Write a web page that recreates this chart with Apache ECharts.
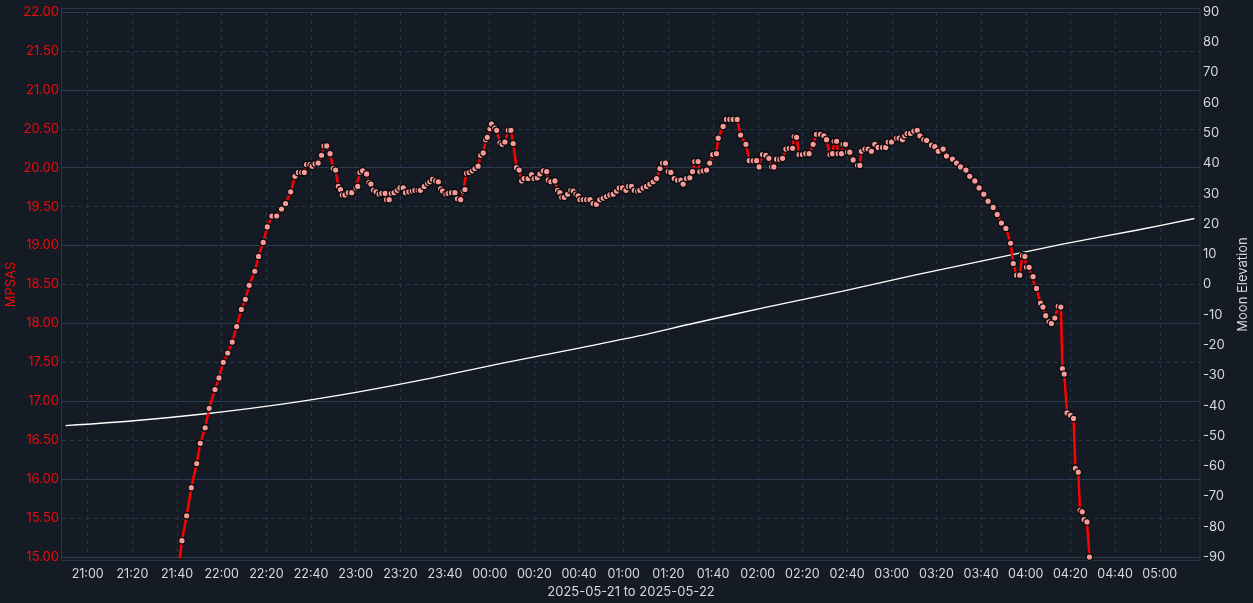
<!DOCTYPE html>
<html>
<head>
<meta charset="utf-8">
<script src="https://cdn.jsdelivr.net/npm/echarts@6/dist/echarts.min.js"></script>
<style>
html,body{margin:0;padding:0;background:#151b24;}
#c{width:1253px;height:603px;}
</style>
</head>
<body>
<div id="c"></div>
<script>
// minutes are counted from 2025-05-21 21:00
const xTickMinutes = [0,20,40,60,80,100,120,140,160,180,200,220,240,260,280,300,320,340,360,380,400,420,440,460,480];
const xTickLabels = ["21:00","21:20","21:40","22:00","22:20","22:40","23:00","23:20","23:40","00:00","00:20","00:40","01:00","01:20","01:40","02:00","02:20","02:40","03:00","03:20","03:40","04:00","04:20","04:40","05:00"];

const mpsasMinutes = [
40,42.2,44.3,46.4,48.8,50.4,52.6,54.4,57.0,58.8,60.7,62.7,64.7,66.7,68.8,70.6,72.3,74.8,76.5,78.6,
80.4,82.5,84.6,86.8,88.6,90.9,92.8,94.3,95.8,97.0,98.0,99.5,100.5,101.8,103.2,104.7,105.8,107.0,108.5,109.9,
111.0,112.2,113.2,114.0,115.2,116.7,118.2,120.1,120.9,121.9,123.1,124.9,125.9,126.8,127.9,129.1,130.5,131.7,133.2,133.8,
135.0,135.9,137.2,138.6,139.8,141.3,142.3,143.8,145.3,146.5,148.0,149.0,150.7,152.2,153.2,154.4,155.8,157.0,158.0,158.9,
160.4,161.4,162.9,164.4,165.5,167.0,168.1,168.9,169.6,170.8,172.2,173.4,174.8,175.9,177.1,178.2,178.9,180.1,180.8,182.3,
183.1,184.6,185.6,186.8,188.3,189.5,190.5,192.0,193.2,194.3,195.4,197.2,198.7,199.9,201.3,202.5,204.0,205.5,206.2,207.4,
209.2,210.4,211.4,212.2,213.4,214.9,216.3,217.4,218.6,219.6,220.4,221.9,223.4,224.9,226.3,227.8,229.3,230.8,232.3,233.8,
235.3,236.8,238.0,239.5,241.0,242.2,243.5,244.7,246.2,247.2,248.7,250.2,251.7,253.2,254.7,256.2,257.4,258.7,259.9,261.1,
262.6,264.1,265.6,266.6,268.1,269.6,270.8,271.8,273.3,274.1,275.6,277.1,278.5,279.8,281.5,282.3,284.5,286.0,287.5,289.0,
290.8,292.3,294.7,296.2,298.0,299.5,300.6,302.1,303.6,305.0,306.2,307.2,308.4,309.9,311.1,312.6,314.1,315.6,316.3,317.4,
318.5,320.0,321.5,323.0,324.8,326.3,328.1,329.6,330.8,332.3,333.5,334.2,335.3,336.0,337.5,338.2,339.3,340.2,341.2,342.7,
344.7,345.7,346.4,348.0,349.4,350.9,352.4,353.9,355.9,357.3,358.4,359.9,362.1,363.3,364.8,365.8,366.9,368.4,369.9,371.4,
372.6,374.4,375.6,377.8,379.3,380.8,383.0,384.5,387.2,389.0,390.8,393.2,394.9,397.2,399.1,401.2,403.1,405.4,407.2,409.1,
411.1,413.2,414.4,415.9,417.3,418.5,419.6,420.3,421.5,422.6,423.3,424.8,426.6,427.7,428.9,430.4,431.5,433.0,434.5,435.7,
436.4,437.2,438.5,440.0,441.4,442.2,443.5,444.3,445.3,446.1,447.4,448.5
];
const mpsasValues = [
14.70,15.21,15.53,15.89,16.20,16.46,16.66,16.91,17.15,17.30,17.50,17.62,17.76,17.96,18.18,18.31,18.49,18.67,18.86,19.04,
19.24,19.38,19.38,19.47,19.54,19.69,19.89,19.94,19.94,19.94,20.04,20.04,20.02,20.05,20.06,20.16,20.28,20.28,20.18,19.99,
19.97,19.76,19.72,19.65,19.65,19.68,19.68,19.74,19.76,19.94,19.96,19.92,19.81,19.79,19.71,19.69,19.66,19.67,19.67,19.59,
19.59,19.67,19.68,19.71,19.74,19.74,19.68,19.69,19.70,19.71,19.71,19.71,19.76,19.80,19.82,19.85,19.83,19.82,19.73,19.70,
19.66,19.67,19.68,19.68,19.60,19.59,19.70,19.72,19.93,19.94,19.96,19.99,20.02,20.16,20.19,20.36,20.39,20.50,20.56,20.51,
20.48,20.32,20.30,20.33,20.48,20.48,20.31,20.00,19.97,19.83,19.86,19.86,19.91,19.86,19.87,19.92,19.96,19.95,19.84,19.82,
19.83,19.71,19.68,19.62,19.62,19.66,19.71,19.70,19.66,19.64,19.59,19.59,19.59,19.59,19.54,19.53,19.59,19.61,19.63,19.65,
19.66,19.70,19.74,19.74,19.71,19.76,19.76,19.71,19.70,19.71,19.74,19.76,19.79,19.82,19.86,19.99,20.06,20.06,19.95,19.94,
19.86,19.84,19.84,19.79,19.86,19.87,19.95,20.08,20.08,19.95,19.96,19.97,20.06,20.17,20.18,20.38,20.53,20.62,20.62,20.62,
20.62,20.42,20.30,20.09,20.09,20.09,20.01,20.17,20.16,20.12,20.01,20.01,20.11,20.11,20.12,20.24,20.25,20.25,20.40,20.39,
20.17,20.17,20.18,20.18,20.30,20.43,20.43,20.41,20.36,20.17,20.18,20.34,20.34,20.18,20.18,20.30,20.30,20.20,20.20,20.10,
20.03,20.03,20.21,20.24,20.24,20.21,20.30,20.26,20.26,20.26,20.33,20.33,20.38,20.38,20.36,20.41,20.44,20.44,20.47,20.48,
20.41,20.36,20.35,20.29,20.27,20.21,20.24,20.15,20.11,20.06,20.01,19.97,19.89,19.83,19.74,19.66,19.57,19.49,19.40,19.29,
19.22,19.03,18.77,18.62,18.62,18.87,18.86,18.72,18.72,18.60,18.60,18.45,18.26,18.21,18.10,18.02,18.00,18.07,18.22,18.21,
17.42,17.35,16.85,16.82,16.78,16.14,16.09,15.60,15.58,15.48,15.45,15.00
];

const moonMinutes = [-9.9,20.7,53.8,87.0,120.1,153.2,186.3,219.4,246.7,271.4,304.5,337.6,370.7,403.8,437.0,470.1,495.5];
const moonValues  = [-46.6,-45.0,-42.6,-39.5,-35.6,-31.0,-25.9,-21.1,-17.0,-12.8,-7.4,-2.3,3.2,8.3,13.4,18.0,21.8];

const mpsasData = mpsasMinutes.map((m, i) => [m, mpsasValues[i]]);
const moonData = moonMinutes.map((m, i) => [m, moonValues[i]]);

const textColor = '#d6d9de';
const redText = '#f00a0a';
const gridColor = '#273649';
const fontFamily = 'Inter, "Noto Sans", sans-serif';

const chart = echarts.init(document.getElementById('c'), null, {renderer: 'canvas'});
chart.setOption({
  backgroundColor: '#151b24',
  animation: false,
  textStyle: {fontFamily: fontFamily},
  grid: {left: 62, right: 53, top: 12, bottom: 46, containLabel: false, outerBoundsMode: 'none'},
  graphic: [{
    type: 'rect', silent: true, z: 0,
    shape: {x: 61.5, y: 8.5, width: 1138.5, height: 552},
    style: {fill: 'none', stroke: gridColor, lineWidth: 1}
  }],
  xAxis: {
    type: 'value', min: -11.5, max: 498,
    name: '2025-05-21 to 2025-05-22', nameLocation: 'middle', nameGap: 28,
    nameTextStyle: {color: textColor, fontSize: 13, fontFamily: fontFamily},
    axisLine: {show: false},
    axisTick: {show: false, customValues: xTickMinutes},
    axisLabel: {
      customValues: xTickMinutes, color: textColor, fontSize: 12.5, margin: 11, fontFamily: fontFamily,
      formatter: function (v) { const i = xTickMinutes.indexOf(v); return i >= 0 ? xTickLabels[i] : ''; }
    },
    splitLine: {show: true, lineStyle: {color: gridColor, width: 1, type: [4, 4]}}
  },
  yAxis: [
    {
      type: 'value', min: 15, max: 22, interval: 0.5, position: 'left',
      name: 'MPSAS', nameLocation: 'middle', nameGap: 44, nameRotate: 90, nameMoveOverlap: false,
      nameTextStyle: {color: redText, fontSize: 13, fontFamily: fontFamily},
      axisLine: {show: false}, axisTick: {show: false},
      axisLabel: {color: redText, fontSize: 13, margin: 3, fontFamily: fontFamily, formatter: v => v.toFixed(2)},
      splitLine: {show: true, lineStyle: {color: gridColor, width: 1, type: [4, 4]}}
    },
    {
      type: 'value', min: -90, max: 90, interval: 10, position: 'right',
      name: 'Moon Elevation', nameLocation: 'middle', nameGap: 34, nameRotate: 90,
      nameTextStyle: {color: textColor, fontSize: 13, fontFamily: fontFamily},
      axisLine: {show: false}, axisTick: {show: false},
      axisLabel: {color: textColor, fontSize: 13, margin: 3, fontFamily: fontFamily},
      splitLine: {show: false}
    },
    {
      type: 'value', min: 15, max: 22, interval: 1, position: 'left',
      axisLine: {show: false}, axisTick: {show: false}, axisLabel: {show: false},
      splitLine: {show: true, lineStyle: {color: '#2b3b50', width: 1.2, type: 'solid'}}
    }
  ],
  series: [
    {
      name: 'Moon Elevation', type: 'line', yAxisIndex: 1, data: moonData,
      showSymbol: false, symbol: 'none', smooth: 0.3,
      lineStyle: {color: '#ffffff', width: 1.3}, z: 3
    },
    {
      name: 'MPSAS', type: 'line', yAxisIndex: 0, data: mpsasData,
      symbol: 'circle', symbolSize: 6.5, showAllSymbol: true, clip: true,
      lineStyle: {color: '#ff0000', width: 2.5},
      itemStyle: {color: '#f79a9a', borderColor: '#0d0d0d', borderWidth: 1.3},
      z: 4
    }
  ]
});
</script>
</body>
</html>
